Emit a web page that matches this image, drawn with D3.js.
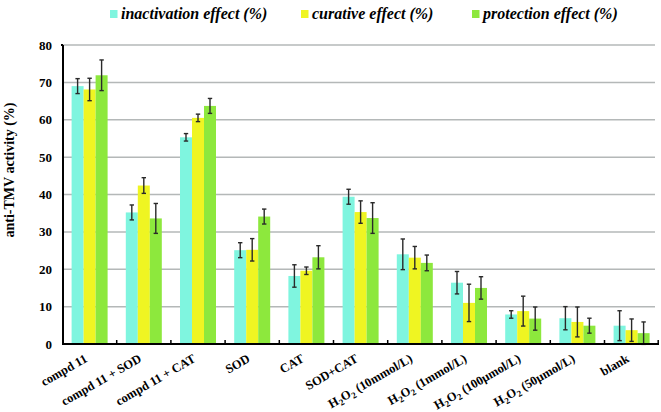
<!DOCTYPE html>
<html><head><meta charset="utf-8">
<script src="https://cdn.jsdelivr.net/npm/d3@7"></script>
<style>body{margin:0;background:#fff}svg{display:block}text{font-family:"Liberation Serif","Times New Roman",serif;font-weight:bold}</style>
</head><body><svg id="c" width="661" height="412"></svg>
<script>
const categories = ["compd 11","compd 11 + SOD","compd 11 + CAT","SOD","CAT","SOD+CAT","H2O2 (10mmol/L)","H2O2 (1mmol/L)","H2O2 (100\u03bcmol/L)","H2O2 (50\u03bcmol/L)","blank"];
const seriesNames = ["inactivation effect (%)","curative effect (%)","protection effect (%)"];
const inactivation = [69.0,35.2,55.3,25.1,18.2,39.4,24.0,16.4,7.9,6.9,4.9];
const curative     = [68.1,42.4,60.5,25.2,19.6,35.3,23.1,11.0,8.8,5.9,3.7];
const protection   = [71.9,33.6,63.7,34.1,23.2,33.7,21.7,15.0,6.8,4.9,2.9];
const errInact = [2.0,2.0,1.0,2.0,3.0,2.0,4.1,3.0,1.0,3.1,4.0];
const errCur   = [3.0,2.1,1.0,3.0,1.0,3.0,3.0,5.0,4.0,4.0,3.0];
const errProt  = [4.1,4.0,2.0,2.0,3.1,4.1,2.1,3.0,3.1,2.0,3.0];
const yTicks = [0,10,20,30,40,50,60,70,80];
const colors = ["#7ff5df","#eff522","#8de83d"];

const values = [inactivation, curative, protection];
const errors = [errInact, errCur, errProt];
const svg = d3.select("#c");
const x = d3.scaleBand().domain(categories).range([62.5, 658.7]).padding(0);
const y = d3.scaleLinear().domain([0,80]).range([344,45]);
const barW = 12;

svg.append("g").selectAll("line").data(yTicks.filter(d=>d>0)).join("line")
  .attr("x1",63).attr("x2",655).attr("y1",d=>y(d)).attr("y2",d=>y(d))
  .attr("stroke","#b4b8b8").attr("stroke-width",1.5);

categories.forEach((c,i)=>{
  const cx = x(c) + x.bandwidth()/2;
  values.forEach((s,k)=>{
    const x0 = cx - 1.5*barW + k*barW;
    svg.append("rect").attr("x",x0).attr("width",barW)
      .attr("y",y(s[i])).attr("height",y(0)-y(s[i])).attr("fill",colors[k]);
  });
});
categories.forEach((c,i)=>{
  const cx = x(c) + x.bandwidth()/2;
  values.forEach((s,k)=>{
    const xm = cx - 1.5*barW + k*barW + barW/2;
    const hi = y(s[i]+errors[k][i]), lo = y(Math.max(s[i]-errors[k][i], -0.3));
    const g = svg.append("g").attr("stroke","#2a2a2a").attr("stroke-width",1.4);
    g.append("line").attr("x1",xm).attr("x2",xm).attr("y1",hi).attr("y2",lo);
    g.append("line").attr("x1",xm-2.2).attr("x2",xm+2.2).attr("y1",hi).attr("y2",hi);
    g.append("line").attr("x1",xm-2.2).attr("x2",xm+2.2).attr("y1",lo).attr("y2",lo);
  });
});

svg.append("line").attr("x1",63).attr("x2",63).attr("y1",y(80)).attr("y2",y(0)+1).attr("stroke","#000").attr("stroke-width",2);
svg.append("line").attr("x1",61).attr("x2",63).attr("y1",y(80)).attr("y2",y(80)).attr("stroke","#000").attr("stroke-width",2);
svg.append("line").attr("x1",62).attr("x2",659).attr("y1",y(0)).attr("y2",y(0)).attr("stroke","#000").attr("stroke-width",2);
svg.append("g").selectAll("line").data(categories.slice(1).map(c=>x(c)).concat([658.2])).join("line")
  .attr("x1",d=>d).attr("x2",d=>d).attr("y1",y(0)).attr("y2",y(0)-4).attr("stroke","#000").attr("stroke-width",1.5);

svg.append("g").selectAll("text").data(yTicks).join("text")
  .attr("x",52).attr("y",d=>y(d)+4.5).attr("text-anchor","end").attr("font-size",13).text(d=>d);

svg.append("text").attr("transform","translate(13.5,170) rotate(-90)").attr("text-anchor","middle")
  .attr("font-size",14).text("anti-TMV activity  (%)");

const xl = svg.append("g");
categories.forEach(c=>{
  const cx = x(c) + x.bandwidth()/2;
  const t = xl.append("text").attr("transform",`translate(${cx-1.5},361) rotate(-30)`)
    .attr("text-anchor","end").attr("font-size",12.5);
  if (c.startsWith("H2O2")) {
    t.append("tspan").text("H");
    t.append("tspan").attr("font-size",9).attr("dy",3).text("2");
    t.append("tspan").attr("dy",-3).text("O");
    t.append("tspan").attr("font-size",9).attr("dy",3).text("2");
    t.append("tspan").attr("dy",-3).text(c.slice(4));
  } else t.text(c);
});

const legX = [110, 301, 472];
seriesNames.forEach((n,k)=>{
  svg.append("rect").attr("x",legX[k]).attr("y",10).attr("width",7.5).attr("height",8).attr("fill",colors[k]);
  svg.append("text").attr("x",legX[k]+11).attr("y",19).attr("font-size",16).attr("font-style","italic").text(n);
});
</script></body></html>
